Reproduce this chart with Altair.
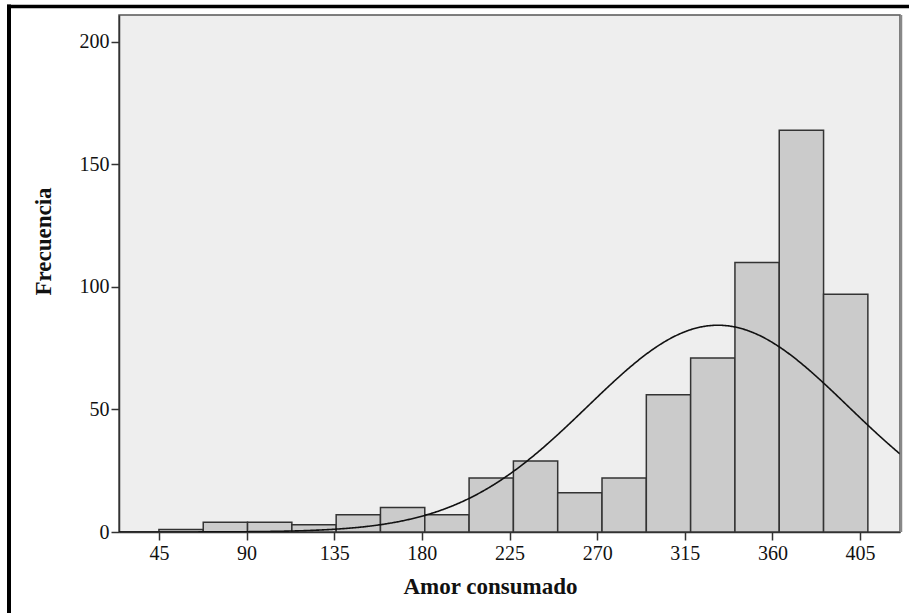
import altair as alt
import pandas as pd

# Histogram of "Amor consumado" scores with a fitted normal curve
bin_start = 45.0
bin_width = 22.75
counts = [1, 4, 4, 3, 7, 10, 7, 22, 29, 16, 22, 56, 71, 110, 164, 97]
x_ticks = [45, 90, 135, 180, 225, 270, 315, 360, 405]
y_ticks = [0, 50, 100, 150, 200]
curve_mean = 332.0
curve_sd = 67.0

n_total = sum(counts)
bars = pd.DataFrame({
    "lo": [bin_start + i * bin_width for i in range(len(counts))],
    "hi": [bin_start + (i + 1) * bin_width for i in range(len(counts))],
    "count": counts,
})

x_scale = alt.Scale(domain=[24.5, 425.5], nice=False, zero=False)
y_scale = alt.Scale(domain=[0, 211], nice=False, zero=True)

x_axis = alt.Axis(
    values=x_ticks, title="Amor consumado", grid=False,
    titleX=371, titleY=61, titleBaseline="alphabetic", titleAlign="center",
    labelPadding=3)
y_axis = alt.Axis(
    values=y_ticks, title="Frecuencia", grid=False,
    titleAngle=270, titleX=-76, titleY=226, titleAlign="center",
    titleBaseline="middle", labelPadding=2)

hist = alt.Chart(bars).mark_rect(
    fill="#CBCBCB", stroke="#333333", strokeWidth=1.5
).encode(
    x=alt.X("lo:Q", scale=x_scale, axis=x_axis),
    x2="hi:Q",
    y=alt.Y("count:Q", scale=y_scale, axis=y_axis),
    y2=alt.datum(0),
)

# normal density scaled to counts: N * bin width * pdf
density_expr = (
    f"{n_total * bin_width} * exp(-0.5 * pow((datum.v - {curve_mean}) / {curve_sd}, 2))"
    f" / ({curve_sd} * sqrt(2 * PI))"
)
curve = alt.Chart(alt.sequence(24.5, 425.6, 0.5, as_="v")).transform_calculate(
    f=density_expr
).mark_line(color="#111111", strokeWidth=1.6, clip=True).encode(
    x=alt.X("v:Q", scale=x_scale, axis=x_axis),
    y=alt.Y("f:Q", scale=y_scale, axis=y_axis),
)

# outer black frame (top and left edges)
anchor = pd.DataFrame({"k": [0]})
frame_top = alt.Chart(anchor).mark_rule(color="black", strokeWidth=3.5).encode(
    x=alt.value(-112), x2=alt.value(790), y=alt.value(-8.5)
)
frame_left = alt.Chart(anchor).mark_rule(color="black", strokeWidth=4).encode(
    x=alt.value(-110), y=alt.value(-10.5), y2=alt.value(598)
)
# soft shadow along the right edge of the plot area
frame_right = alt.Chart(anchor).mark_rule(color="#888888", strokeWidth=2.5).encode(
    x=alt.value(782), y=alt.value(0), y2=alt.value(517)
)

chart = alt.layer(hist, curve, frame_right, frame_top, frame_left).properties(
    width=781, height=517,
    autosize=alt.AutoSizeParams(type="none"),
    padding={"left": 119, "top": 15, "right": 9, "bottom": 81},
    background="white",
).configure_view(
    fill="#EEEEEE", stroke="#555555", strokeWidth=1.5
).configure_axis(
    labelFont="Liberation Serif", labelFontSize=20, labelColor="#111111",
    titleFont="Liberation Serif", titleFontSize=23, titleFontWeight="bold",
    titleColor="#111111",
    domainColor="#333333", domainWidth=1.5,
    tickColor="#333333", tickWidth=1.5, tickSize=8,
)

chart.save("out.html", embed_options={"renderer": "svg", "actions": False})
